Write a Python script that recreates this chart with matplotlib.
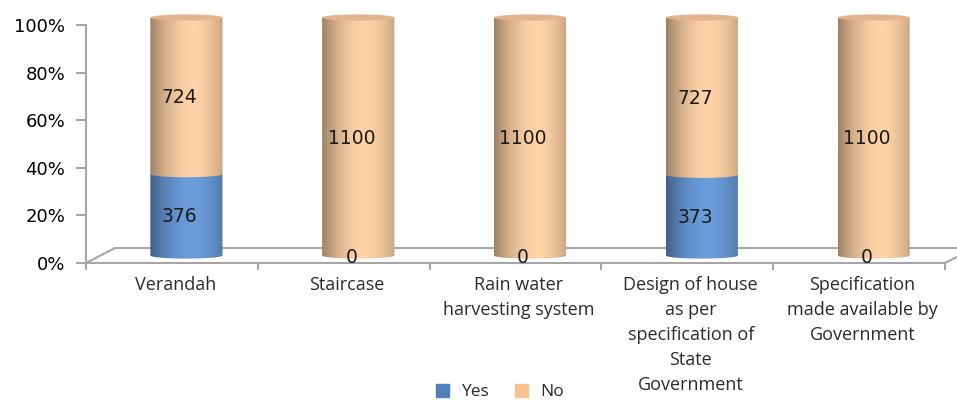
import numpy as np
import matplotlib.pyplot as plt
from matplotlib.path import Path
from matplotlib.patches import PathPatch, Ellipse, Polygon
from matplotlib.colors import to_rgb

categories = ["Verandah", "Staircase", "Rain water\nharvesting system",
              "Design of house\nas per\nspecification of\nState\nGovernment",
              "Specification\nmade available by\nGovernment"]
yes_vals = [376, 0, 0, 373, 0]
no_vals = [724, 1100, 1100, 727, 1100]
series = ["Yes", "No"]
y_ticks = [0, 20, 40, 60, 80, 100]

blue = "#4F81BD"
orange = "#FAC090"
light = {blue: "#6B9DDC", orange: "#FFD3A6"}

# 3d look: depth offsets in data units (x in categories, y in percent)
depth_x, depth_y = 0.169, 6.3
cyl_w = 0.42
cap_h = 2.6


def shade(base, n=64):
    # horizontal shading across the cylinder: darker edges, light right of centre
    c = np.array(to_rgb(light[base]))
    t = np.linspace(0, 1, n)
    f = 1 - 0.38 * np.abs((t - 0.58) / 0.58) ** 1.8
    cols = c[None, :] * f[:, None]
    return cols[None, :, :]


def cylinder_piece(ax, cx, y0, y1, base):
    x0, x1 = cx - cyl_w / 2, cx + cyl_w / 2
    th = np.linspace(np.pi, 2 * np.pi, 40)
    bx = cx + cyl_w / 2 * np.cos(th)
    by = y0 + cap_h / 2 * np.sin(th)
    verts = [(x0, y1)] + list(zip(bx, by)) + [(x1, y1), (x0, y1)]
    patch = PathPatch(Path(verts), facecolor="none", edgecolor="none")
    ax.add_patch(patch)
    im = ax.imshow(shade(base), extent=[x0, x1, y0 - cap_h, y1],
                   aspect="auto", interpolation="bilinear", zorder=3)
    im.set_clip_path(patch)


fig = plt.figure(figsize=(9.57, 4.0), dpi=100)
ymax = 108
ax = fig.add_axes([86 / 957, 1 - 263 / 400, (945 - 86) / 957,
                   238 * ymax / 100 / 400])
n = len(categories)
ax.set_xlim(-0.5, n - 0.5)
ax.set_ylim(0, ymax)

# floor
floor = Polygon([(-0.5, 0), (n - 0.5, 0), (n - 0.5 + depth_x, depth_y),
                 (-0.5 + depth_x, depth_y)], closed=True,
                facecolor="white", edgecolor="#A6A6A6", lw=1.5,
                clip_on=False, zorder=1)
ax.add_patch(floor)

totals = [a + b for a, b in zip(yes_vals, no_vals)]
dx, dy = depth_x / 2, depth_y / 2
for i in range(n):
    cx = i + dx
    bottom = 0.0
    for vals, col in ((yes_vals, blue), (no_vals, orange)):
        h = vals[i] / totals[i] * 100
        if h > 0:
            cylinder_piece(ax, cx, bottom + dy, bottom + h + dy, col)
        ax.text(cx - 0.04, bottom + h / 2 + dy - 0.8, str(vals[i]),
                ha="center", va="center", fontsize=13.5,
                family="DejaVu Sans", color="#1a1a1a", zorder=5,
                clip_on=False)
        bottom += h
    ax.add_patch(Ellipse((cx, 100 + dy), cyl_w, cap_h,
                         facecolor="#E3B48E", edgecolor="none",
                         zorder=4, clip_on=False))

for s in ["top", "right", "bottom"]:
    ax.spines[s].set_visible(False)
ax.spines["left"].set_color("#A6A6A6")
ax.spines["left"].set_linewidth(1.5)
ax.spines["left"].set_bounds(0, 100)
ax.set_yticks(y_ticks)
ax.set_yticklabels([f"{v}%" for v in y_ticks], fontsize=13,
                   family="DejaVu Sans")
ax.tick_params(axis="y", length=7, width=1.5, color="#A6A6A6", pad=8)

ax.set_xticks(np.arange(-0.5, n, 1.0))
ax.set_xticklabels([])
ax.tick_params(axis="x", length=5, color="#A6A6A6", width=1.5)
for i, lab in enumerate(categories):
    ax.text(i + 0.02, -5.5, lab, ha="center", va="top", fontsize=13,
            family="Open Sans", color="#2b2b2b", linespacing=1.5,
            clip_on=False)

# legend
handles = [plt.Rectangle((0, 0), 1, 1, color=blue),
           plt.Rectangle((0, 0), 1, 1, color=orange)]
fig.legend(handles, series, loc="center",
           bbox_to_anchor=(500 / 957, 1 - 392 / 400),
           ncol=2, frameon=False, borderpad=0.1,
           prop={"family": "Open Sans", "size": 12.5},
           labelcolor="#2b2b2b",
           handlelength=0.75, handleheight=0.75, columnspacing=1.5,
           handletextpad=0.7)

fig.savefig("out.png", dpi=100)
